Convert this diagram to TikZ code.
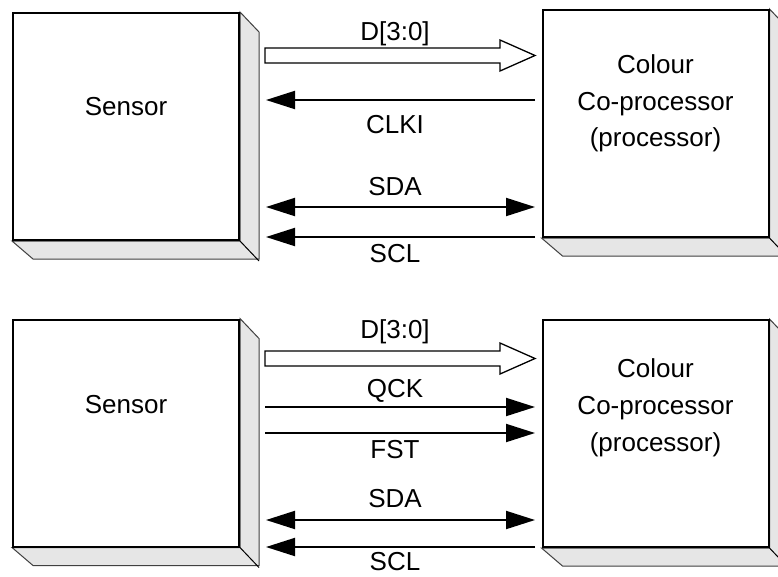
\documentclass[tikz,border=0pt]{standalone}
\usepackage{fontspec}
\setmainfont{Liberation Sans}
\usetikzlibrary{arrows.meta}
\definecolor{shade}{RGB}{230,230,230}
\tikzset{
  front/.style={draw, line width=2pt, fill=white, minimum width=226pt, minimum height=227pt, inner sep=0pt},
  face/.style={draw=black!75, line width=1pt, fill=shade, line join=miter},
  lbl/.style={anchor=base, inner sep=0pt, font=\fontsize{26}{31}\selectfont},
  tip/.tip={Triangle[length=29pt,width=18pt]},
  sig/.style={line width=2pt, -tip},
  sigb/.style={line width=2pt, tip-tip},
  bus/.style={draw, line width=1.3pt, fill=white, line join=miter},
}
\begin{document}
\begin{tikzpicture}[x=1pt,y=-1pt]
\clip (0,0) rectangle (778,576);
\fill[white] (0,0) rectangle (778,576);

% ---------- top panel ----------
\node[front] (s1) at (126,126.5) {};
\node[front] (c1) at (655.5,123.5) {};
\foreach \b in {s1,c1}{
  \draw[face] (\b.north east) -- ++(19,20) -- ++(0,227) -- ++(-226,0) -- (\b.south west) -- (\b.south east) -- cycle;
  \draw[line width=1pt, black] (\b.south east) -- ++(19,20);
  \node[front] at (\b) {};
}
\node[lbl] (s1t) at (126,115) {Sensor};
\node[lbl] (c1a) at (655.5,73) {Colour};
\node[lbl] (c1b) at (655.5,110) {Co-processor};
\node[lbl] (c1c) at (655.5,146) {(processor)};

\coordinate (d1) at (265,55.5);
\draw[bus] (d1) ++(0,-7.5) -- ++(235,0) -- ++(0,-8) -- ++(35,15.5) -- ++(-35,15.5) -- ++(0,-8) -- ++(-235,0) -- cycle;
\node[lbl] (d1l) at (395,40) {D[3:0]};

\coordinate (clkR) at (535,100);
\coordinate (clkL) at (266,100);
\draw[sig] (clkR) -- (clkL);
\node[lbl] (clkl) at (395,133) {CLKI};

\coordinate (sda1L) at (266,207);
\coordinate (sda1R) at (535,207);
\draw[sigb] (sda1L) -- (sda1R);
\node[lbl] (sda1l) at (395,195) {SDA};

\coordinate (scl1R) at (535,237);
\coordinate (scl1L) at (266,237);
\draw[sig] (scl1R) -- (scl1L);
\node[lbl] (scl1l) at (395,262) {SCL};

% ---------- bottom panel ----------
\node[front] (s2) at (126,433) {};
\node[front] (c2) at (655.5,433.5) {};
\foreach \b in {s2,c2}{
  \draw[face] (\b.north east) -- ++(19,20) -- ++(0,227) -- ++(-226,0) -- (\b.south west) -- (\b.south east) -- cycle;
  \draw[line width=1pt, black] (\b.south east) -- ++(19,20);
  \node[front] at (\b) {};
}
\node[lbl] (s2t) at (126,413) {Sensor};
\node[lbl] (c2a) at (655.5,377) {Colour};
\node[lbl] (c2b) at (655.5,414) {Co-processor};
\node[lbl] (c2c) at (655.5,451) {(processor)};

\coordinate (d2) at (265,358.5);
\draw[bus] (d2) ++(0,-7.5) -- ++(235,0) -- ++(0,-8) -- ++(35,15.5) -- ++(-35,15.5) -- ++(0,-8) -- ++(-235,0) -- cycle;
\node[lbl] (d2l) at (395,338) {D[3:0]};

\coordinate (qckL) at (265,407);
\coordinate (qckR) at (535,407);
\draw[sig] (qckL) -- (qckR);
\node[lbl] (qckl) at (395,397) {QCK};

\coordinate (fstL) at (265,433);
\coordinate (fstR) at (535,433);
\draw[sig] (fstL) -- (fstR);
\node[lbl] (fstl) at (395,458) {FST};

\coordinate (sda2L) at (266,520);
\coordinate (sda2R) at (535,520);
\draw[sigb] (sda2L) -- (sda2R);
\node[lbl] (sda2l) at (395,507) {SDA};

\coordinate (scl2R) at (535,547);
\coordinate (scl2L) at (266,547);
\draw[sig] (scl2R) -- (scl2L);
\node[lbl] (scl2l) at (395,570) {SCL};
\end{tikzpicture}
\end{document}
